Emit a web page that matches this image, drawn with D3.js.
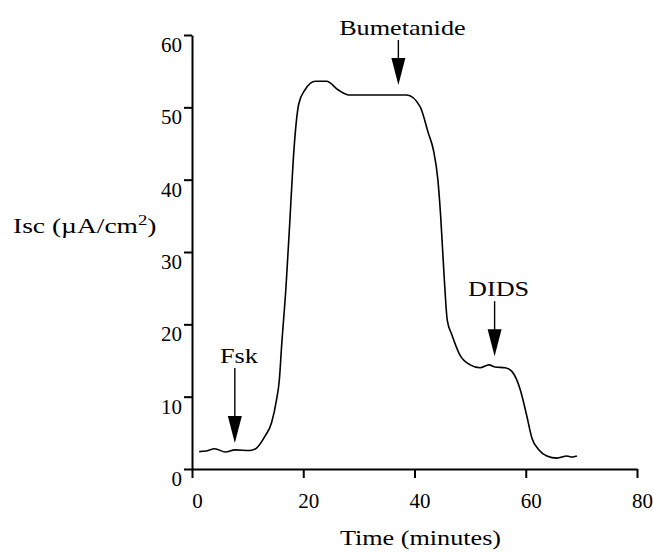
<!DOCTYPE html>
<html lang="en">

<head>
	<title>Isc time course</title>
	<meta charset="utf-8">
	<script src="https://d3js.org/d3.v7.min.js"></script>
	<style>
		body {
			margin: 0;
			background: #fff;
		}

		svg text {
			font-family: "Liberation Serif", "DejaVu Serif", serif;
			fill: #000;
		}

		.axis path,
		.axis line {
			stroke: #000;
			stroke-width: 2;
		}
	</style>
</head>

<body>
	<div id="chart"></div>
	<script>
		// Data
		const time = [1.3, 2.5, 4.1, 6, 7.7, 10.4, 11.6, 13.1, 14.3, 15.2, 15.7, 16.1, 16.9, 17.6, 18.2, 19.2, 20.3, 22.2, 24.2, 26.3, 28.2, 33, 38.6, 41, 42.5, 43.4, 44.2, 44.7, 45.3, 45.9, 46.7, 48.2, 50, 51.8, 53.4, 54.5, 56.3, 57.5, 59, 60.2, 61.1, 62.3, 63.8, 65.6, 67.4, 68.3, 69.2];
		const isc = [2.4, 2.5, 2.8, 2.35, 2.65, 2.55, 2.9, 4.5, 6.4, 9.6, 12.3, 16.9, 25.2, 34.4, 42.7, 50.5, 52.4, 53.6, 53.6, 52.4, 51.7, 51.7, 51.7, 50.1, 46.4, 44.1, 40, 35, 27, 20.5, 18.6, 15.7, 14.4, 14.0, 14.4, 14.1, 14.0, 13.5, 11.0, 7.3, 4.3, 2.7, 1.8, 1.5, 1.8, 1.65, 1.8];

		const xTicks = [0, 20, 40, 60, 80];
		const yTicks = [0, 10, 20, 30, 40, 50, 60];

		// Drug additions: label, time, tip value
		const drugs = ["Fsk", "Bumetanide", "DIDS"];
		const drugTime = [7.7, 37.1, 54.4];
		const drugTip = [3.6, 53.1, 15.6];
		const shaftLength = [48, 18, 28];

		const serif = "'Liberation Serif', 'DejaVu Serif', serif";
		// the scanned lettering is a bit wider than the font
		const stretch = 1.19;

		// Chart dimensions
		const width = 653;
		const height = 554;
		const margin = {
			top: 35,
			right: 16,
			bottom: 85,
			left: 192
		};
		const innerWidth = width - margin.left - margin.right;
		const innerHeight = height - margin.top - margin.bottom;

		const svg = d3.select("#chart")
			.append("svg")
			.attr("width", width)
			.attr("height", height)
			.attr("font-family", serif)
			.style("display", "block");

		const bounds = svg.append("g")
			.attr("transform", `translate(${margin.left},${margin.top})`);

		// Scales
		const x = d3.scaleLinear()
			.domain([0, 80])
			.range([0, innerWidth]);

		const y = d3.scaleLinear()
			.domain([0, 60])
			.range([innerHeight, 0]);

		// Axes
		const xAxis = bounds.append("g")
			.attr("class", "axis")
			.attr("transform", `translate(0,${innerHeight})`)
			.call(d3.axisBottom(x).tickValues(xTicks).tickSize(9).tickSizeOuter(0))
			.attr("font-family", serif)
			.attr("font-size", 21);

		xAxis.selectAll(".tick text")
			.attr("y", 39)
			.attr("dy", 0)
			.attr("dx", 5);

		const yAxis = bounds.append("g")
			.attr("class", "axis")
			.call(d3.axisLeft(y).tickValues(yTicks).tickSize(8).tickSizeOuter(0).tickPadding(2))
			.attr("font-family", serif)
			.attr("font-size", 21);

		yAxis.selectAll(".tick text")
			.attr("dy", "0.78em");

		// Trace
		const line = d3.line()
			.x((d, i) => x(time[i]))
			.y(d => y(d))
			.curve(d3.curveMonotoneX);

		bounds.append("path")
			.datum(isc)
			.attr("d", line)
			.attr("fill", "none")
			.attr("stroke", "#000")
			.attr("stroke-width", 1.6);

		// Arrows
		drugs.forEach((drug, i) => {
			const ax = x(drugTime[i]);
			const tip = y(drugTip[i]);
			const headTop = tip - 27;
			const shaftTop = headTop - shaftLength[i];

			bounds.append("line")
				.attr("x1", ax)
				.attr("x2", ax)
				.attr("y1", shaftTop)
				.attr("y2", headTop + 2)
				.attr("stroke", "#000")
				.attr("stroke-width", 1.4);

			bounds.append("path")
				.attr("d", `M${ax - 7},${headTop} L${ax + 7},${headTop} L${ax},${tip} Z`)
				.attr("fill", "#000");

			bounds.append("text")
				.attr("transform", `translate(${ax + 4},${shaftTop - 5}) scale(${stretch},1)`)
				.attr("text-anchor", "middle")
				.attr("font-size", 22)
				.text(drug);
		});

		// Axis titles
		svg.append("text")
			.attr("transform", `translate(${margin.left + innerWidth / 2 + 6},545) scale(${stretch},1)`)
			.attr("text-anchor", "middle")
			.attr("font-size", 22)
			.text("Time (minutes)");

		const yTitle = svg.append("text")
			.attr("transform", `translate(13,233) scale(1.25,1)`)
			.attr("font-size", 22)
			.text("Isc (\u00b5A/cm");

		yTitle.append("tspan")
			.attr("dy", -8)
			.attr("font-size", 15)
			.text("2");

		yTitle.append("tspan")
			.attr("dy", 8)
			.text(")");
	</script>
</body>

</html>
